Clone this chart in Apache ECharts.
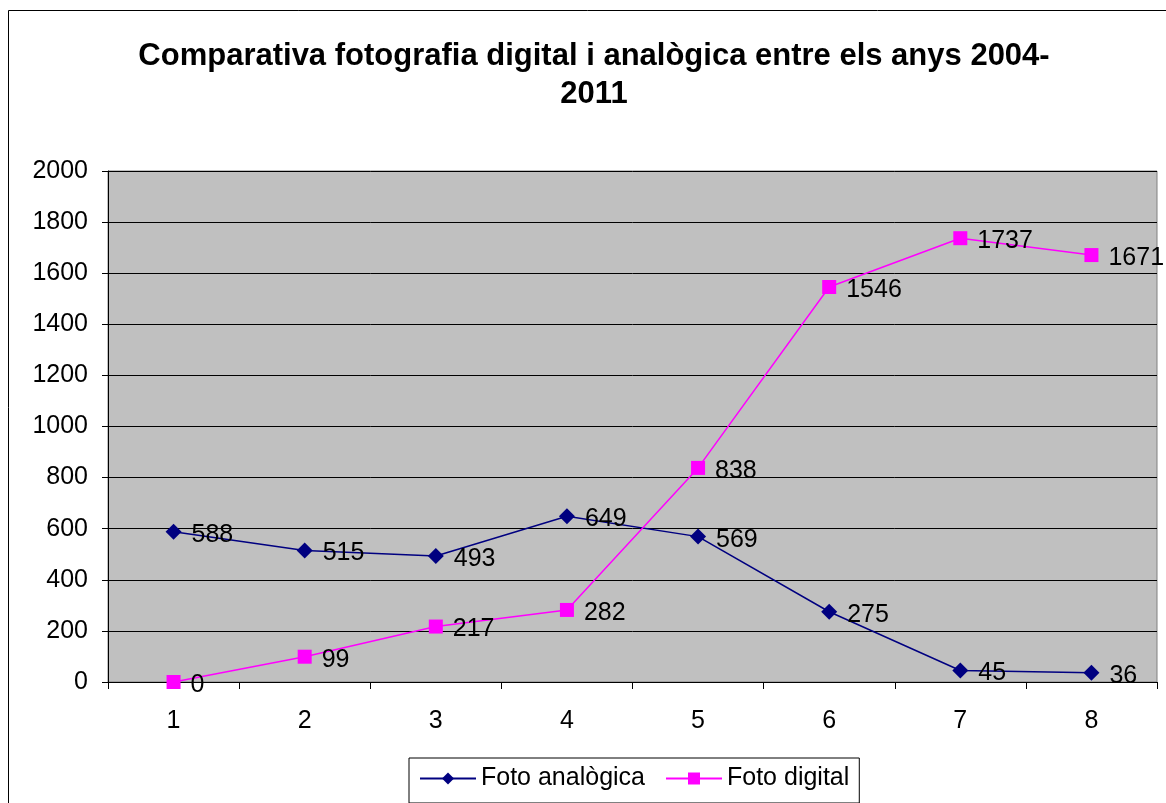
<!DOCTYPE html>
<html>
<head>
<meta charset="utf-8">
<script src="https://cdn.jsdelivr.net/npm/echarts@6/dist/echarts.min.js"></script>
<style>
  html, body { margin: 0; padding: 0; background: #fff; }
  #chart { width: 1166px; height: 803px; }
</style>
</head>
<body>
<div id="chart"></div>
<script>
const categories = ['1', '2', '3', '4', '5', '6', '7', '8'];
const fotoAnalogica = [588, 515, 493, 649, 569, 275, 45, 36];
const fotoDigital = [0, 99, 217, 282, 838, 1546, 1737, 1671];

const FONT = 'Liberation Sans, Arial, sans-serif';

const chart = echarts.init(document.getElementById('chart'));

const labelStyle = {
  show: true,
  position: 'right',
  distance: 10,
  offset: [0, 3],
  color: '#000',
  fontFamily: FONT,
  fontSize: 25
};

chart.setOption({
  backgroundColor: '#fff',
  animation: false,
  title: {
    text: 'Comparativa fotografia digital i analògica entre els anys 2004-\n2011',
    left: 589,
    textAlign: 'center',
    top: 32,
    textStyle: {
      fontFamily: FONT,
      fontWeight: 'bold',
      fontSize: 31,
      lineHeight: 38,
      color: '#000'
    }
  },
  graphic: [
    {
      type: 'rect',
      shape: { x: 8.5, y: 10.5, width: 1170, height: 800 },
      style: { fill: 'none', stroke: '#000', lineWidth: 1 },
      silent: true
    }
  ],
  legend: {
    top: 758,
    left: 409,
    itemWidth: 56,
    itemHeight: 15,
    itemGap: 20,
    padding: [8, 10, 12, 10],
    borderColor: '#000',
    borderWidth: 1,
    textStyle: { fontFamily: FONT, fontSize: 25, color: '#000' },
    data: ['Foto analògica', 'Foto digital']
  },
  grid: {
    left: 108,
    right: 9,
    top: 171,
    bottom: 121,
    show: true,
    backgroundColor: '#c0c0c0',
    borderColor: '#808080',
    borderWidth: 1
  },
  xAxis: {
    type: 'category',
    data: categories,
    boundaryGap: true,
    axisLine: { lineStyle: { color: '#000', width: 1 } },
    axisTick: { show: true, alignWithLabel: false, length: 7, lineStyle: { color: '#000' } },
    axisLabel: { fontFamily: FONT, fontSize: 25, color: '#000', margin: 27 }
  },
  yAxis: {
    type: 'value',
    min: 0,
    max: 2000,
    interval: 200,
    axisLine: { show: true, lineStyle: { color: '#000', width: 1 } },
    axisTick: { show: true, length: 6, lineStyle: { color: '#000' } },
    axisLabel: { fontFamily: FONT, fontSize: 25, color: '#000', margin: 20, formatter: v => String(v) },
    splitLine: { show: true, lineStyle: { color: '#000', width: 1 } }
  },
  series: [
    {
      name: 'Foto analògica',
      type: 'line',
      data: fotoAnalogica,
      symbol: 'diamond',
      symbolSize: 16,
      color: '#000080',
      lineStyle: { color: '#000080', width: 1.5 },
      itemStyle: { color: '#000080' },
      label: labelStyle
    },
    {
      name: 'Foto digital',
      type: 'line',
      data: fotoDigital,
      symbol: 'rect',
      symbolSize: 14,
      color: '#ff00ff',
      lineStyle: { color: '#ff00ff', width: 1.5 },
      itemStyle: { color: '#ff00ff' },
      label: labelStyle
    }
  ]
});
</script>
</body>
</html>
